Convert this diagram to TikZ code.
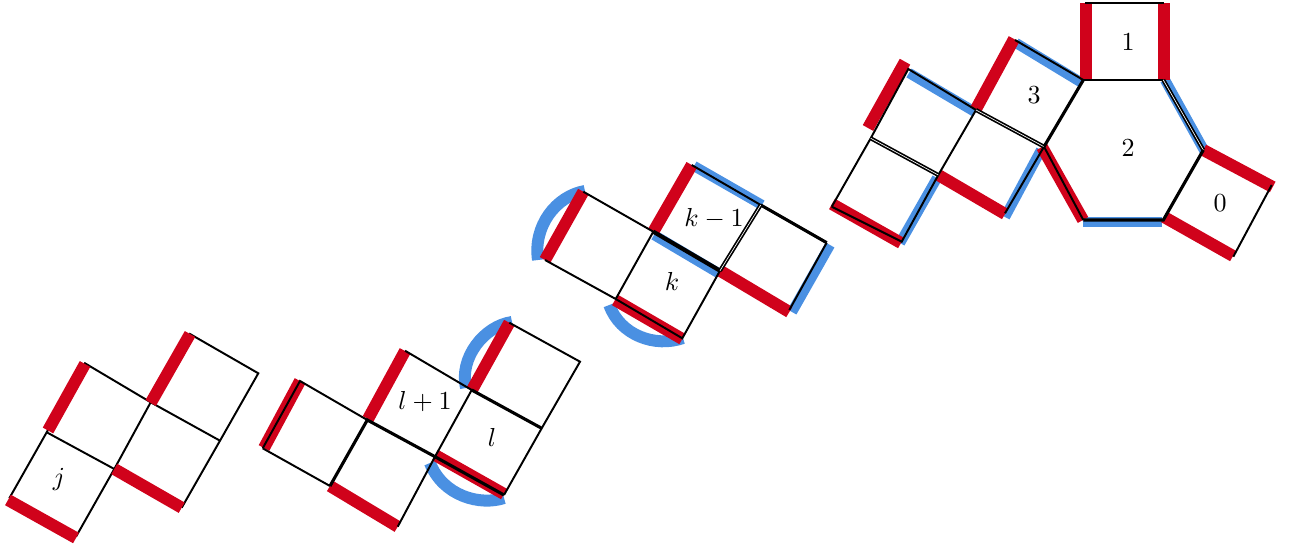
\documentclass[tikz,border=0pt]{standalone}
\definecolor{barred}{rgb}{0.816,0.008,0.106}
\definecolor{barblue}{rgb}{0.290,0.565,0.886}
\tikzset{every picture/.style={line width=0.75pt}}
\tikzset{redbar/.style={color=barred, line width=4.6pt},
    bluebar/.style={color=barblue, line width=3.9pt},
    bluearc/.style={color=barblue, line width=4.6pt},
    boldedge/.style={line width=1.2pt},
    twoedge/.style={double, double distance=0.25pt, line width=0.65pt}}

\begin{document}
\begin{tikzpicture}[x=0.0135cm, y=-0.0135cm]
    \useasboundingbox (0,0) rectangle (1299,548);
    % j
    \draw (46.7,432.3) -- (85,363.3) -- (150.7,402.3) -- (190,334) -- (258.3,373.3) -- (220,440.7) -- (181.7,507.7);
    \draw (150.7,402.3) -- (220,440.7);
    \draw (46.7,432.3) -- (114.3,469) -- (150.7,402.3);
    \draw (46.7,432.3) -- (9.3,498.3);
    \draw (114.3,469) -- (76,536.7);
    \draw[redbar] (48,430.5) -- (85,364);
    \draw[redbar] (150.7,403) -- (190,334);
    \draw[redbar] (114.3,469) -- (181.7,507.7);
    \draw[redbar] (8,500) -- (76,538);
    \node (labelj) at (59,479) {$j$};
    % l
    \draw[bluearc] (466,388) .. controls (459,358) and (484,326) .. (512,322);
    \draw[bluearc] (430,463) .. controls (443,496) and (480,506) .. (504,498);
    \draw[redbar] (264,448) -- (300,381);
    \draw[redbar] (368,419) -- (405,351);
    \draw[redbar] (472,390) -- (509.3,322.7);
    \draw[redbar] (435,455) -- (504,494);
    \draw[redbar] (330,486) -- (397.7,526.7);
    \draw (262.7,448.3) -- (300,381) -- (367.3,420);
    \draw (262.7,448.3) -- (330,486);
    \draw (405,350.7) -- (471.7,390);
    \draw (509.3,322.7) -- (580,361.7) -- (541.7,428.3) -- (504,495);
    \draw (471.7,390) -- (435,456.7) -- (397.7,526.7);
    \draw[boldedge] (471.7,390) -- (541.7,428.3);
    \draw[boldedge] (330,486) -- (367.3,420) -- (435,456.7) -- (504,495);
    \node (labellplus) at (425,402) {$l+1$};
    \node (labell) at (492,437) {$l$};
    % k
    \draw[bluearc] (538,260) .. controls (533,226) and (556,196) .. (585,191);
    \draw[bluearc] (609.3,305) .. controls (620,335) and (655,348) .. (683,338);
    \draw[bluebar] (654,235) -- (719,273.5);
    \draw[bluebar] (694,166) -- (762,205);
    \draw[bluebar] (830,245) -- (792,312);
    \draw[redbar] (545,260) -- (583.3,191.7);
    \draw[redbar] (653.3,231.7) -- (691.7,165);
    \draw[redbar] (720,270.7) -- (789.3,312);
    \draw[redbar] (615,300) -- (682.3,339);
    \draw (545,260) -- (615.7,299) -- (653.3,231.7) -- (583.3,191.7);
    \draw (691.7,165) -- (760.7,205);
    \draw (826.7,242.7) -- (789.3,310);
    \draw (615.7,299) -- (682.3,338.3) -- (720,270.7);
    \draw[line width=1.6pt] (653.3,231.7) -- (720,270.7);
    \draw[boldedge] (760.7,205) -- (826.7,242.7);
    \draw[twoedge] (760.7,205) -- (720,270.7);
    \node (labelkminus) at (714,219) {$k-1$};
    \node (labelk) at (672,281) {$k$};
    % 0 1 2 3
    \draw[bluebar] (909,73) -- (975,112);
    \draw[bluebar] (1016,43) -- (1082,83);
    \draw[bluebar] (937,178) -- (900,243);
    \draw[bluebar] (1041,150) -- (1005,217);
    \draw[bluebar] (1083.3,222) -- (1162.3,222);
    \draw[bluebar] (1165,80) -- (1205,152);
    \draw[redbar] (868,128) -- (905,61.7);
    \draw[redbar] (976,109) -- (1014,39);
    \draw[redbar] (1086,80) -- (1086,3);
    \draw[redbar] (1164,80) -- (1164,3);
    \draw[redbar] (938.3,175) -- (1005,214);
    \draw[redbar] (832,204) -- (901,243);
    \draw[redbar] (1042,147) -- (1083,220);
    \draw[redbar] (1203.3,150) -- (1272.7,187);
    \draw[redbar] (1164,217) -- (1233,256);
    \draw (831.7,206.7) -- (870.7,138.3) -- (908.3,69) -- (976,110) -- (938.3,175) -- (901.7,241.7) -- (831.7,206.7);
    \draw (1015,40) -- (1083.3,80) -- (1163.3,80);
    \draw (1005,213.3) -- (1044,146.7);
    \draw (1044,146.7) -- (1083.3,220);
    \draw (1085,2.7) -- (1164.3,2.7);
    \draw (1271.7,185) -- (1233.3,256.7);
    \draw[twoedge] (870.7,138.3) -- (938.3,175);
    \draw[twoedge] (976,110) -- (1044,146.7);
    \draw[twoedge] (1163.3,80) -- (1203.3,150);
    \draw[boldedge] (1083.3,80) -- (1044,146.7);
    \draw[boldedge] (1083.3,220) -- (1163.3,220) -- (1203.3,150);
    \node (labelone) at (1128,42) {$1$};
    \node (labelthree) at (1034,95) {$3$};
    \node (labeltwo) at (1128,148) {$2$};
    \node (labelzero) at (1220,203) {$0$};
\end{tikzpicture}
\end{document}
